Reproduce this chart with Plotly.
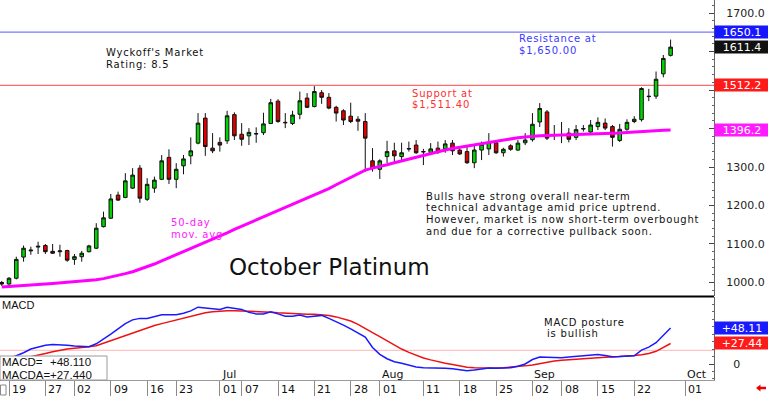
import plotly.graph_objects as go
import pandas as pd

# ---------------- data ----------------
holidays = ["2025-05-26", "2025-06-19", "2025-07-04", "2025-09-01"]
calendar = [d.strftime("%Y-%m-%d") for d in pd.bdate_range("2025-05-16", "2025-10-10")
            if d.strftime("%Y-%m-%d") not in holidays]
dates = calendar[:93]

open_ = [1000, 996, 1011, 1066, 1082, 1092, 1096, 1081, 1080, 1083, 1060, 1067, 1080, 1089, 1145, 1167,
         1227, 1221, 1245, 1297, 1216, 1245, 1268, 1325, 1268, 1303, 1329, 1362, 1427, 1349, 1364, 1368,
         1436, 1385, 1381, 1387, 1389, 1413, 1471, 1416, 1413, 1437, 1479, 1457, 1493, 1481, 1455, 1446,
         1432, 1424, 1418, 1316, 1294, 1327, 1342, 1327, 1348, 1357, 1339, 1338, 1349, 1347, 1362, 1344,
         1340, 1311, 1344, 1347, 1363, 1337, 1355, 1344, 1363, 1371, 1417, 1443, 1382, 1382, 1388, 1377,
         1400, 1391, 1405, 1414, 1405, 1369, 1398, 1418, 1423, 1484, 1484, 1542, 1590]
high = [1004, 1014, 1067, 1096, 1093, 1106, 1100, 1100, 1098, 1085, 1074, 1082, 1098, 1154, 1184, 1230,
        1236, 1284, 1297, 1305, 1271, 1275, 1331, 1346, 1310, 1331, 1377, 1440, 1440, 1388, 1377, 1446,
        1442, 1414, 1401, 1403, 1441, 1477, 1476, 1440, 1446, 1496, 1492, 1510, 1500, 1492, 1459, 1450,
        1467, 1432, 1440, 1349, 1320, 1368, 1363, 1363, 1366, 1370, 1347, 1362, 1366, 1370, 1370, 1347,
        1357, 1355, 1366, 1388, 1370, 1350, 1359, 1370, 1388, 1440, 1466, 1448, 1409, 1417, 1401, 1409,
        1409, 1422, 1429, 1426, 1409, 1412, 1424, 1432, 1507, 1503, 1548, 1591, 1631]
low = [991, 994, 1008, 1054, 1072, 1074, 1074, 1074, 1067, 1054, 1046, 1054, 1078, 1087, 1143, 1165,
       1212, 1219, 1243, 1207, 1212, 1233, 1266, 1256, 1245, 1281, 1307, 1359, 1329, 1336, 1340, 1360,
       1370, 1355, 1357, 1363, 1383, 1412, 1415, 1401, 1409, 1424, 1453, 1455, 1464, 1450, 1418, 1409,
       1414, 1394, 1288, 1288, 1269, 1310, 1310, 1314, 1340, 1334, 1305, 1331, 1334, 1337, 1331, 1331,
       1308, 1297, 1318, 1331, 1334, 1327, 1342, 1342, 1357, 1366, 1404, 1370, 1370, 1362, 1364, 1370,
       1392, 1388, 1396, 1396, 1353, 1365, 1394, 1414, 1418, 1471, 1477, 1533, 1587]
close = [996, 1011, 1060, 1089, 1084, 1094, 1080, 1076, 1082, 1058, 1067, 1076, 1095, 1141, 1168, 1217,
         1214, 1264, 1279, 1219, 1255, 1266, 1316, 1268, 1294, 1321, 1342, 1414, 1353, 1342, 1357, 1433,
         1381, 1372, 1390, 1386, 1412, 1467, 1418, 1415, 1435, 1472, 1455, 1496, 1481, 1453, 1440, 1422,
         1418, 1419, 1375, 1297, 1316, 1340, 1329, 1337, 1347, 1337, 1340, 1347, 1339, 1360, 1342, 1334,
         1311, 1344, 1359, 1364, 1337, 1346, 1346, 1362, 1370, 1411, 1452, 1375, 1384, 1384, 1372, 1397,
         1399, 1409, 1416, 1401, 1377, 1398, 1416, 1424, 1504, 1483, 1528, 1582, 1611.4]
ma50 = [988, 989, 990, 991.5, 993, 994.5, 996, 997.5, 999, 1000.5, 1002, 1003.5, 1005, 1007, 1010, 1014,
        1018, 1023, 1028, 1034, 1041, 1048, 1056, 1064, 1072, 1080, 1088, 1095, 1103, 1111, 1121, 1129,
        1138, 1146, 1155, 1163, 1171, 1179, 1187, 1195, 1203, 1211, 1219, 1227, 1235, 1244, 1254, 1264,
        1274, 1284, 1292, 1297, 1301, 1306, 1311, 1316, 1320, 1325, 1330, 1335, 1340, 1344, 1348, 1351,
        1355, 1358, 1361, 1365, 1368, 1371, 1374, 1376, 1378, 1380, 1381, 1382, 1382.5, 1383, 1383, 1383.5,
        1384, 1384.5, 1385, 1386, 1387, 1388, 1389.5, 1391, 1392.5, 1393.5, 1394.5, 1395.5, 1396.2]
macd = [3, 7, 10, 15, 20, 23, 25, 26, 26, 25, 24, 23, 23, 27, 33, 40,
        47, 54, 59, 61, 61, 64, 66, 66, 66, 68, 71, 76, 75, 73.5, 73, 76,
        75, 73, 69, 67, 67, 70, 67, 64, 64, 65.5, 63, 64, 65, 61, 57, 52,
        47, 42, 36, 22, 13, 7, 3, 1, -2, -4, -5, -5, -5.5, -5.7, -6.5, -8,
        -9, -8, -6.5, -5.5, -5.7, -5.7, -5, -3, 0, 6, 9.2, 9, 8.4, 8.5, 9.5, 10.5,
        11, 12, 12.7, 11.5, 9.8, 10, 10.5, 11, 18.5, 22.5, 28.5, 38, 48.11]
macda = [1, 3, 5, 7, 9, 11, 14, 16.5, 18.7, 20, 21, 21.8, 23, 24.5, 28, 31.5,
         35, 38.5, 42, 45.5, 48.5, 51.5, 54, 56.5, 58.5, 61, 63.5, 66, 68.5, 70, 71, 71.3,
         71.3, 71, 70.9, 70.5, 70, 69.3, 68.5, 67.8, 67, 66.4, 66.4, 66.4, 66, 64.8, 63, 60.5,
         57.5, 53, 48, 42, 36.5, 31, 25, 20, 15.5, 11.5, 8, 5.5, 3, 1, -0.8, -2.5,
         -4.4, -5, -5.5, -5.7, -5.5, -5, -4.4, -3.5, -2.5, -1.3, 0.5, 2.5, 4, 5, 5.8, 6.5,
         7.2, 7.8, 8.4, 9, 9.5, 10, 10.5, 11.5, 12.5, 14, 17, 22, 27.44]

tick_dates = ["2025-05-19", "2025-05-27", "2025-06-02", "2025-06-09", "2025-06-16", "2025-06-23",
              "2025-07-01", "2025-07-07", "2025-07-14", "2025-07-21", "2025-07-28", "2025-08-01",
              "2025-08-11", "2025-08-18", "2025-08-25", "2025-09-02", "2025-09-08", "2025-09-15",
              "2025-09-22", "2025-10-01"]
tick_text = ["19", "27", "02", "09", "16", "23", "01", "07", "14", "21", "28", "01",
             "11", "18", "25", "02", "08", "15", "22", "01"]
month_dates = ["2025-07-01", "2025-08-01", "2025-09-02", "2025-10-01"]
month_text = ["Jul", "Aug", "Sep", "Oct"]
price_ticks = [1000, 1100, 1200, 1300, 1400, 1500, 1600, 1700]
price_labels = ["1000.0", "1100.0", "1200.0", "1300.0", "", "", "", "1700.0"]  # 1400-1600 sit under value boxes
resistance = 1650.1
support = 1512.2
macd_ref = 18.3

for arr in (open_, high, low, close, ma50, macd, macda):
    assert len(arr) == len(dates), len(arr)

# ---------------- geometry helpers ----------------
PW, PH = 714, 380


def px(x):
    return x / PW


def py(y):
    return (PH - y) / PH


pos = {d: i for i, d in enumerate(calendar)}
xs = [pos[d] for d in dates]
FONT = "DejaVu Sans"
NOTE = 10  # size of the chart notes (rendered with a little letter spacing)

fig = go.Figure()
fig.add_trace(go.Candlestick(
    x=xs, open=open_, high=high, low=low, close=close,
    increasing=dict(fillcolor="#00d400", line=dict(color="#111111", width=1)),
    decreasing=dict(fillcolor="#e00000", line=dict(color="#111111", width=1)),
    whiskerwidth=0, xaxis="x", yaxis="y", showlegend=False, hoverinfo="skip"))
fig.add_trace(go.Scatter(x=xs, y=ma50, mode="lines", line=dict(color="#ff00ff", width=3),
                         xaxis="x", yaxis="y", showlegend=False, hoverinfo="skip"))
fig.add_trace(go.Scatter(x=xs, y=macda, mode="lines", line=dict(color="#ee1111", width=1.5),
                         xaxis="x", yaxis="y2", showlegend=False, hoverinfo="skip"))
fig.add_trace(go.Scatter(x=xs, y=macd, mode="lines", line=dict(color="#1a1aff", width=1.5),
                         xaxis="x", yaxis="y2", showlegend=False, hoverinfo="skip"))

shapes = [
    dict(type="line", xref="paper", yref="y", x0=0, x1=1, y0=resistance, y1=resistance,
         line=dict(color="#7878ff", width=1.3), layer="below"),
    dict(type="line", xref="paper", yref="y", x0=0, x1=1, y0=support, y1=support,
         line=dict(color="#ff6a6a", width=1.3), layer="below"),
    dict(type="line", xref="paper", yref="y2", x0=0, x1=1, y0=macd_ref, y1=macd_ref,
         line=dict(color="#ffb4b4", width=1), layer="below"),
    dict(type="line", xref="paper", yref="paper", x0=0, x1=1, y0=py(296.5), y1=py(296.5),
         line=dict(color="#000000", width=2)),
    dict(type="rect", xref="paper", yref="paper", x0=0, x1=px(107), y0=py(380), y1=py(356),
         fillcolor="white", line=dict(color="#9a9a9a", width=1), layer="above"),
    dict(type="rect", xref="paper", yref="paper", x0=px(0.5), x1=px(6), y0=py(395), y1=py(385),
         fillcolor="white", line=dict(color="#888888", width=1)),
    dict(type="path", xref="paper", yref="paper",
         path=(f"M {px(756)},{py(388)} L {px(760.5)},{py(384.5)} L {px(760.5)},{py(386.8)} "
               f"L {px(766)},{py(386.8)} L {px(766)},{py(389.2)} L {px(760.5)},{py(389.2)} "
               f"L {px(760.5)},{py(391.5)} Z"),
         fillcolor="#ee0000", line=dict(width=0)),
]

ann = []


def txt(x, y, s, color="#111111", size=NOTE, family=FONT, xanchor="left"):
    ann.append(dict(xref="paper", yref="paper", x=px(x), y=py(y), text=s, showarrow=False,
                    xanchor=xanchor, yanchor="middle", align="left",
                    font=dict(family=family, size=size, color=color)))


txt(104, 53, "Wyckoff's Market")
txt(104, 64.5, "Rating: 8.5")
txt(517, 39, "Resistance at", "#3a3aff")
txt(517, 50.5, "$1,650.00", "#3a3aff")
txt(410, 93, "Support at", "#ff3030")
txt(410, 104.5, "$1,511.40", "#ff3030")
txt(169, 223, "50-day", "#ff20ff")
txt(169, 234.5, "mov. avg", "#ff20ff")
txt(227, 267, "October Platinum", "#111111", 23)
for i, line in enumerate(["Bulls have strong overall near-term",
                          "technical advantage amid price uptrend.",
                          "However, market is now short-term overbought",
                          "and due for a corrective pullback soon."]):
    txt(424, 196.5 + i * 11.5, line)
txt(542, 322, "MACD posture")
txt(545, 333.5, "is bullish")
txt(0, 305, "MACD", size=11, family="Liberation Sans")
txt(0, 362, "MACD=", size=11.5, family="Liberation Sans")
txt(48, 362, "+48.110", size=11.5, family="Liberation Sans")
txt(0, 374.5, "MACDA=", size=11.5, family="Liberation Sans")
txt(48, 374.5, "+27.440", size=11.5, family="Liberation Sans")

for d, t in zip(tick_dates, tick_text):
    ann.append(dict(xref="x", yref="paper", x=pos[d], y=py(389), text=t, showarrow=False,
                    xanchor="left", yanchor="middle", xshift=1,
                    font=dict(family=FONT, size=11, color="#111111")))
for d, t in zip(month_dates, month_text):
    ann.append(dict(xref="x", yref="paper", x=pos[d], y=py(374), text=t, showarrow=False,
                    xanchor="left", yanchor="middle", xshift=0,
                    font=dict(family=FONT, size=11, color="#111111")))


def vbox(yref, val, s, bg):
    ann.append(dict(xref="paper", yref=yref, x=1, y=val, text=s, showarrow=False,
                    xanchor="left", yanchor="middle", width=54, height=12, borderpad=0,
                    align="center", bgcolor=bg,
                    font=dict(family=FONT, size=11, color="white")))


vbox("y", 1650.1, "1650.1", "#1616ff")
vbox("y", close[-1], f"{close[-1]:.1f}", "#111111")
vbox("y", support, f"{support:.1f}", "#ff1a1a")
vbox("y", ma50[-1], f"{ma50[-1]:.1f}", "#ff1aff")
vbox("y2", macd[-1], f"+{macd[-1]:.2f}", "#1a1aff")
vbox("y2", macda[-1], f"+{macda[-1]:.2f}", "#ff1a1a")

fig.update_layout(
    width=768, height=396,
    margin=dict(l=0, r=54, t=0, b=16),
    paper_bgcolor="white", plot_bgcolor="white",
    showlegend=False,
    shapes=shapes, annotations=ann,
    xaxis=dict(domain=[0, 1], range=[-0.24, 97.97], anchor="y2",
               showgrid=False, zeroline=False, showline=True, linecolor="#9a9a9a",
               tickvals=[pos[d] for d in tick_dates], ticks="outside", ticklen=16,
               tickcolor="#8a8a8a", showticklabels=False,
               rangeslider=dict(visible=False), fixedrange=True),
    yaxis=dict(domain=[py(296), 1], range=[964.9, 1733.8], side="right", anchor="x",
               showgrid=False, zeroline=False, showline=True, linecolor="#666666",
               tickvals=price_ticks, ticktext=price_labels,
               ticks="inside", ticklen=5, tickcolor="#444444", ticklabelstandoff=9,
               minor=dict(dtick=20, ticks="inside", ticklen=2, tickcolor="#666666"),
               tickfont=dict(family=FONT, size=11, color="#222222")),
    yaxis2=dict(domain=[0, py(297)], range=[-21.4, 89.6], side="right", anchor="x",
                showgrid=False, zeroline=False, showline=True, linecolor="#666666",
                tickvals=[0], ticktext=["0"], ticks="inside", ticklen=5, tickcolor="#444444",
                ticklabelstandoff=16,
                minor=dict(dtick=10, ticks="inside", ticklen=2, tickcolor="#666666"),
                tickfont=dict(family=FONT, size=11, color="#222222")),
)

post = (
    "document.body.style.margin='0px';document.body.style.overflow='hidden';"
    "document.querySelectorAll('text.annotation-text').forEach(function(t){"
    "if(t.style.fontSize==='10px'){t.setAttribute('letter-spacing','0.8px');}});"
)
fig.write_html("out.html", config={"displayModeBar": False}, post_script=post)
